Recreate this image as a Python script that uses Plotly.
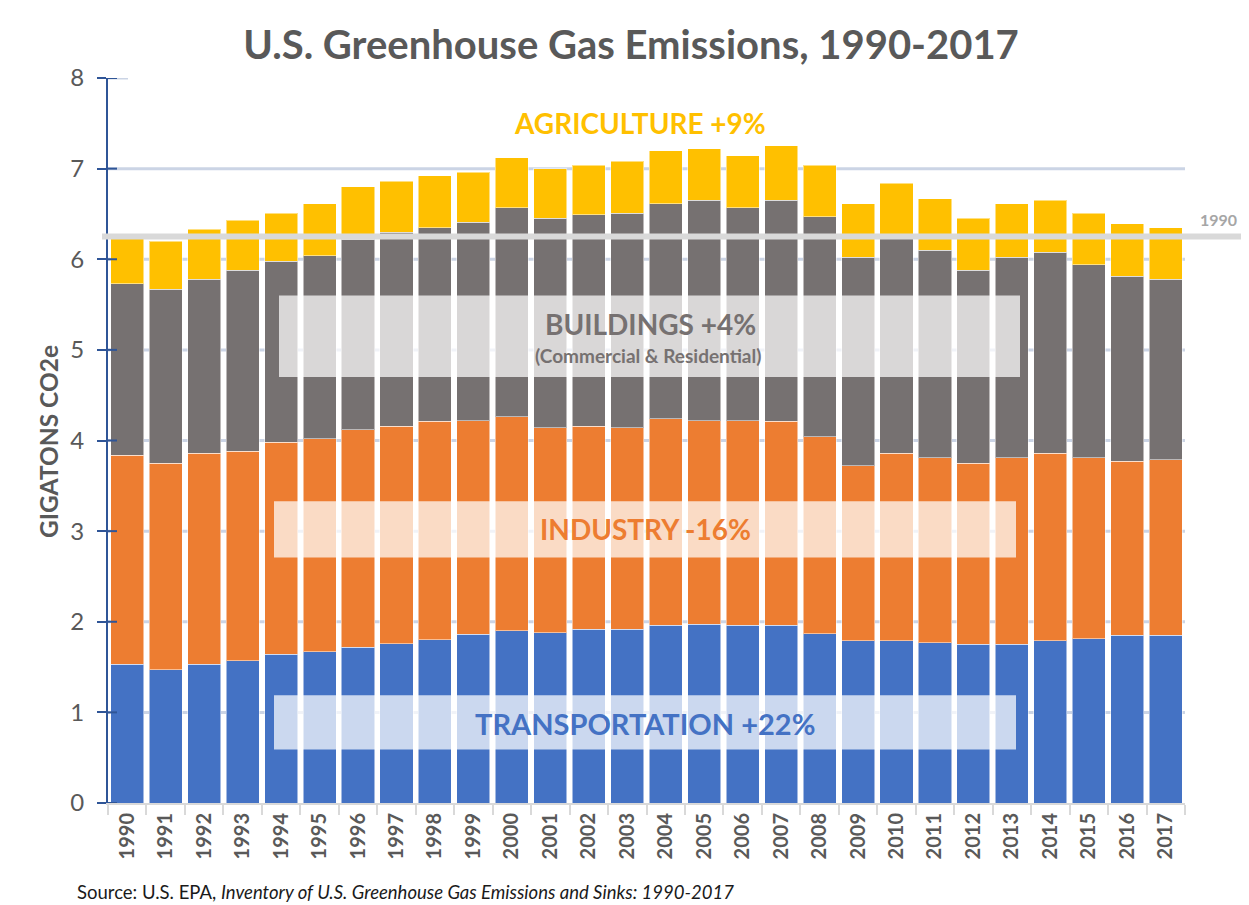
import plotly.graph_objects as go

years = [str(y) for y in range(1990, 2018)]
transportation = [1.53, 1.47, 1.53, 1.57, 1.64, 1.67, 1.72, 1.76, 1.80, 1.86,
                  1.90, 1.88, 1.92, 1.92, 1.96, 1.97, 1.96, 1.96, 1.87, 1.79,
                  1.79, 1.77, 1.75, 1.75, 1.79, 1.81, 1.85, 1.85]
industry = [2.31, 2.28, 2.33, 2.31, 2.34, 2.35, 2.40, 2.40, 2.41, 2.36,
            2.36, 2.26, 2.24, 2.22, 2.28, 2.25, 2.26, 2.25, 2.17, 1.93,
            2.07, 2.04, 2.00, 2.06, 2.07, 2.00, 1.92, 1.94]
buildings = [1.89, 1.92, 1.92, 2.00, 2.00, 2.02, 2.10, 2.14, 2.14, 2.19,
             2.31, 2.31, 2.33, 2.37, 2.37, 2.43, 2.35, 2.44, 2.43, 2.30,
             2.39, 2.29, 2.13, 2.21, 2.22, 2.13, 2.04, 1.99]
agriculture = [0.52, 0.53, 0.55, 0.55, 0.53, 0.57, 0.58, 0.56, 0.57, 0.55,
               0.55, 0.55, 0.55, 0.57, 0.59, 0.57, 0.57, 0.60, 0.57, 0.59,
               0.59, 0.57, 0.57, 0.59, 0.57, 0.57, 0.58, 0.57]
y_ticks = [0, 1, 2, 3, 4, 5, 6, 7, 8]

# the page body has an 8px margin: lay out in screen pixels, shifted by it
OFF = 8
SW, SH = 1249, 905
W, H = SW - OFF, SH - OFF
PL, PR, PT, PB = 108, 1185, 78, 795   # plot area in screen pixels
L, T = PL - OFF, PT - OFF
R, B = SW - PR, SH - PB - OFF
PW, PH = PR - PL, PB - PT


def px(x):
    return (x - PL) / PW


def py(y):
    return (PB - y) / PH


FONT = "Lato"
GREY = "#595959"

fig = go.Figure()
series = [("Transportation", transportation, "#4472C4"),
          ("Industry", industry, "#ED7D31"),
          ("Buildings", buildings, "#767171"),
          ("Agriculture", agriculture, "#FFC000")]
for name, vals, col in series:
    fig.add_trace(go.Bar(x=years, y=vals, name=name, marker_color=col,
                         marker_line=dict(color="rgba(255,255,255,0.5)", width=1)))

total_1990 = transportation[0] + industry[0] + buildings[0] + agriculture[0]

shapes = []
for v in y_ticks[1:]:
    shapes.append(dict(type="line", xref="paper", yref="y", x0=0,
                       x1=(px(128) if v == 8 else 1), y0=v, y1=v,
                       line=dict(color="#CBD4E5", width=3), layer="below"))
for v in y_ticks:
    shapes.append(dict(type="line", xref="paper", yref="y", x0=0, x1=px(117),
                       y0=v, y1=v, line=dict(color="#2F5597", width=2), layer="above"))
box_fill = "rgba(255,255,255,0.72)"
shapes.append(dict(type="rect", xref="paper", yref="y", x0=px(279), x1=px(1020),
                   y0=4.70, y1=5.60, fillcolor=box_fill, line_width=0, layer="above"))
shapes.append(dict(type="rect", xref="paper", yref="y", x0=px(274), x1=px(1016),
                   y0=2.71, y1=3.33, fillcolor=box_fill, line_width=0, layer="above"))
shapes.append(dict(type="rect", xref="paper", yref="y", x0=px(274), x1=px(1016),
                   y0=0.59, y1=1.19, fillcolor=box_fill, line_width=0, layer="above"))
shapes.append(dict(type="line", xref="paper", yref="y", x0=px(102), x1=px(1249),
                   y0=total_1990, y1=total_1990,
                   line=dict(color="#D9D9D9", width=6), layer="above"))
shapes.append(dict(type="rect", xref="paper", yref="paper", x0=px(3), x1=px(1247),
                   y0=py(903), y1=py(5), line=dict(color="#D9D9D9", width=1),
                   fillcolor="rgba(0,0,0,0)", layer="below"))

ann = []


def add_text(text, x, y, size, color, bold=True, yref="y", xanchor="center", angle=0):
    ann.append(dict(text=(f"<b>{text}</b>" if bold else text), x=x, y=y,
                    xref="paper", yref=yref, xanchor=xanchor, yanchor="middle",
                    showarrow=False, textangle=angle,
                    font=dict(family=FONT, size=size, color=color)))


add_text("AGRICULTURE +9%", px(640), 7.5, 28, "#FFC000")
add_text("BUILDINGS +4%", px(650), 5.29, 28, "#767171")
add_text("(Commercial &amp; Residential)", px(648), 4.94, 19, "#767171")
add_text("INDUSTRY -16%", px(645), 3.02, 28, "#ED7D31")
add_text("TRANSPORTATION +22%", px(645), 0.88, 29, "#4472C4")
add_text("1990", px(1218), py(218), 16, "#A6A6A6", yref="paper")
add_text("GIGATONS CO2e", px(48), py(438), 24.5, GREY, yref="paper", angle=-90)
add_text("Source: U.S. EPA, <i>Inventory of U.S. Greenhouse Gas Emissions and Sinks: 1990-2017</i>",
         px(75), py(883), 18.5, "#1a1a1a", bold=False, yref="paper", xanchor="left")

fig.update_layout(
    width=W, height=H,
    margin=dict(l=L, r=R, t=T, b=B),
    paper_bgcolor="white", plot_bgcolor="white",
    barmode="stack", bargap=0.14,
    showlegend=False,
    title=dict(text="<b>U.S. Greenhouse Gas Emissions, 1990-2017</b>",
               x=(631 - OFF) / W, xanchor="center", y=1 - (45 - OFF) / H, yanchor="middle",
               font=dict(family=FONT, size=40, color=GREY)),
    shapes=shapes, annotations=ann,
    font=dict(family=FONT),
)
fig.update_xaxes(type="category", showgrid=False, tickangle=-90,
                 tickson="boundaries", ticks="outside", ticklen=10,
                 tickcolor="#D9D9D9", tickwidth=2,
                 showline=True, linecolor="#D9D9D9", linewidth=2,
                 tickfont=dict(family=FONT, size=20, color=GREY),
                 tickprefix="<b>", ticksuffix="</b>")
fig.update_yaxes(range=[0, 8], tickvals=y_ticks, showgrid=False, zeroline=False,
                 showline=True, linecolor="#2F5597", linewidth=2,
                 ticks="outside", ticklen=9, tickcolor="#2F5597", tickwidth=2,
                 ticklabelstandoff=8,
                 tickfont=dict(family=FONT, size=24, color=GREY),
                 tickprefix="<b>", ticksuffix="</b>")

fig.write_html("out.html")
